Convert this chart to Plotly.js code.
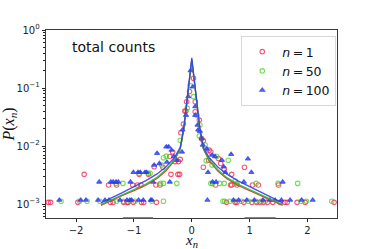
<!DOCTYPE html>
<html>
<head>
<meta charset="utf-8">
<script src="https://cdn.plot.ly/plotly-3.0.1.min.js"></script>
<style>html,body{margin:0;padding:0;background:#fff;}#chart{width:374px;height:249px;}</style>
</head>
<body>
<div id="chart"></div>
<script>
// ---- data ----
var seriesNames = ['<i>n</i>\u2009=\u20091', '<i>n</i>\u2009=\u200950', '<i>n</i>\u2009=\u2009100'];

// n = 1 (red circles)
var redX = [-2.48,-2.44,-1.97,-1.41,-1.36,-1.18,-1.12,-1.10,-1.01,-0.87,-0.83,-0.61,
            0.60,0.75,0.78,0.90,1.04,1.12,1.18,1.24,1.31,1.40,1.53,1.61,1.65,1.82,1.96,2.46,
            -1.44,-1.30,-1.02,-0.94,-0.88,-0.62,-0.55,0.41,0.67,0.69,0.78,1.05,1.15,1.50,
            -1.86,-0.91,-0.75,-0.36,-0.24,-0.21,0.69,
            0.91,0.20,-0.50,-0.65,0.56,
            -0.38,-0.29,-0.33,-0.23,-0.20,0.29,0.46,0.50,0.30,0.33,0.20,
            -0.19,-0.145,-0.12,-0.09,-0.04,0.03,0.06,0.06,0.13,0.17,-0.10];
var redY = [1.07e-3,1.07e-3,1.07e-3,1.07e-3,1.07e-3,1.07e-3,1.07e-3,1.07e-3,1.07e-3,1.07e-3,1.07e-3,1.07e-3,
            1.07e-3,1.07e-3,1.07e-3,1.07e-3,1.07e-3,1.07e-3,1.07e-3,1.07e-3,1.07e-3,1.07e-3,1.07e-3,1.07e-3,1.07e-3,1.07e-3,1.07e-3,1.07e-3,
            2.13e-3,2.13e-3,2.13e-3,2.13e-3,2.13e-3,2.13e-3,2.13e-3,2.13e-3,2.13e-3,2.13e-3,2.13e-3,2.13e-3,2.13e-3,2.13e-3,
            3.25e-3,3.25e-3,3.25e-3,3.25e-3,3.25e-3,3.25e-3,3.25e-3,
            4.3e-3,4.3e-3,4.3e-3,4.4e-3,4.0e-3,
            6.6e-3,5.4e-3,7.9e-3,5.4e-3,5.9e-3,5.7e-3,6.1e-3,5.0e-3,8.5e-3,7.9e-3,1.23e-2,
            1.7e-2,2.4e-2,4.0e-2,5.8e-2,8.7e-2,0.147,5.8e-2,3.9e-2,2.8e-2,1.35e-2,4.0e-2];

// n = 50 (green circles)
var greenX = [-2.26,-1.94,-1.81,-1.59,-1.30,-1.18,-1.07,-0.98,-0.69,-0.49,
              0.54,0.57,0.66,0.75,0.86,0.98,1.11,1.20,1.27,1.89,1.98,2.42,
              -1.31,-1.19,-0.54,-0.49,-0.26,0.33,0.36,0.48,0.56,0.78,1.11,1.49,1.83,
              -0.91,-0.72,-0.75,0.75,
              -0.44,-0.49,-0.52,-0.20,0.25,0.43,0.23,0.35,0.63,
              0.13,0.14,0.09,-0.08,0.03,-0.03];
var greenY = [1.12e-3,1.12e-3,1.12e-3,1.12e-3,1.12e-3,1.12e-3,1.12e-3,1.12e-3,1.12e-3,1.12e-3,
              1.12e-3,1.12e-3,1.12e-3,1.12e-3,1.12e-3,1.12e-3,1.12e-3,1.12e-3,1.12e-3,1.12e-3,1.12e-3,1.12e-3,
              2.27e-3,2.27e-3,2.27e-3,2.27e-3,2.27e-3,2.27e-3,2.27e-3,2.27e-3,2.27e-3,2.27e-3,2.27e-3,2.27e-3,2.27e-3,
              3.4e-3,3.4e-3,3.4e-3,2.5e-3,
              6.7e-3,6.3e-3,4.7e-3,1.26e-2,5.6e-3,6.6e-3,1.04e-2,4.7e-3,5.7e-3,
              1.5e-2,2.3e-2,3.4e-2,4.5e-2,7.1e-2,0.11];

// n = 100 (blue triangles)
var blueX = [-2.29,-1.92,-1.83,-1.62,-1.50,-1.43,-1.24,-1.12,-1.07,-1.04,-0.92,-0.84,-0.71,-0.69,
             0.27,0.72,0.81,0.95,1.08,1.23,1.35,1.44,1.55,1.70,1.90,2.09,
             -1.60,-1.40,-1.36,-1.31,-1.27,-1.06,-0.38,-0.67,0.36,0.42,0.90,1.57,
             -1.01,-0.93,-0.89,-0.81,-0.78,0.28,1.03,0.58,
             0.68,0.97,-0.60,-0.44,-0.40,-0.65,-0.56,-0.43,-0.35,-0.31,-0.26,-0.17,
             -0.16,-0.10,-0.06,-0.02,0.02,0.06,0.06,0.10,0.11,0.14,0.17,0.19,0.26,0.35,0.52,0.55,0.40];
var blueY = [1.17e-3,1.17e-3,1.17e-3,1.17e-3,1.17e-3,1.17e-3,1.17e-3,1.17e-3,1.17e-3,1.17e-3,1.17e-3,1.17e-3,1.17e-3,1.17e-3,
             1.17e-3,1.17e-3,1.17e-3,1.17e-3,1.17e-3,1.17e-3,1.17e-3,1.17e-3,1.17e-3,1.17e-3,1.17e-3,1.17e-3,
             2.4e-3,2.4e-3,2.4e-3,2.4e-3,2.4e-3,2.4e-3,2.4e-3,2.4e-3,2.4e-3,2.4e-3,2.4e-3,2.4e-3,
             3.52e-3,3.52e-3,3.52e-3,3.52e-3,3.52e-3,3.52e-3,3.52e-3,3.52e-3,
             7.2e-3,6.0e-3,7.5e-3,9.7e-3,9.7e-3,4.7e-3,5.0e-3,5.3e-3,8.5e-3,6.6e-3,5.7e-3,7.9e-3,
             1.9e-2,3.4e-2,7.1e-2,0.2,0.105,4.8e-2,3.4e-2,2.3e-2,1.9e-2,1.8e-2,1.35e-2,1.04e-2,8.9e-3,7.0e-3,5.7e-3,4.4e-3,6.6e-3];

// fitted curves
var fitX = [-1.57,-1.4,-1.2,-1.0,-0.8,-0.6,-0.45,-0.3,-0.2,-0.14,-0.08,-0.04,0,0.04,0.08,0.14,0.2,0.3,0.45,0.6,0.8,1.0,1.2,1.4,1.57];
var fitRed   = [9.5e-4,1.15e-3,1.41e-3,1.70e-3,2.09e-3,2.75e-3,3.7e-3,5.6e-3,8.9e-3,1.9e-2,6.6e-2,0.141,0.30,0.141,6.6e-2,1.9e-2,8.9e-3,5.6e-3,3.7e-3,2.75e-3,2.09e-3,1.70e-3,1.41e-3,1.15e-3,9.5e-4];
var fitGreen = [9.8e-4,1.17e-3,1.45e-3,1.78e-3,2.19e-3,2.88e-3,3.9e-3,5.75e-3,9.1e-3,1.95e-2,6.8e-2,0.145,0.31,0.145,6.8e-2,1.95e-2,9.1e-3,5.75e-3,3.9e-3,2.88e-3,2.19e-3,1.78e-3,1.45e-3,1.17e-3,9.8e-4];
var fitBlue  = [1.05e-3,1.26e-3,1.58e-3,2.0e-3,2.51e-3,3.31e-3,4.37e-3,6.3e-3,9.5e-3,2.0e-2,6.9e-2,0.148,0.33,0.148,6.9e-2,2.0e-2,9.5e-3,6.3e-3,4.37e-3,3.31e-3,2.51e-3,2.0e-3,1.58e-3,1.26e-3,1.05e-3];

var xTicks = [-2,-1,0,1,2];
var xTickText = ['\u22122','\u22121','0','1','2'];
var yTicks = [1e-3,1e-2,1e-1,1];
var yTickText = ['10<sup>\u22123</sup>','10<sup>\u22122</sup>','10<sup>\u22121</sup>','10<sup>0</sup>'];
var spineBands = [[-1.19,-0.67],[0.91,1.45]];
var panelLabel = 'total counts';
var xLabel = '<i>x</i><sub><i>n</i></sub>';
var yLabel = '<i>P</i>(<i>x</i><sub><i>n</i></sub>)';

// ---- drawing ----
var red = 'rgba(240,30,75,0.75)', green = 'rgba(70,210,30,0.75)', blue = 'rgba(40,60,245,0.75)';
function pts(x, y, name, col, sym, size) {
  return {x: x, y: y, name: name, type: 'scatter', mode: 'markers',
    marker: {symbol: sym, size: size, color: col, line: {color: col, width: 1.1}}};
}
function fit(y, col) {
  return {x: fitX, y: y, type: 'scatter', mode: 'lines', showlegend: false, hoverinfo: 'skip',
    line: {color: col, width: 1.3}};
}
var data = [
  pts(redX, redY, seriesNames[0], red, 'circle-open', 4.5),
  pts(greenX, greenY, seriesNames[1], green, 'circle-open', 4.5),
  pts(blueX, blueY, seriesNames[2], blue, 'triangle-up', 4.5),
  fit(fitRed, 'rgba(235,30,55,0.9)'),
  fit(fitGreen, 'rgba(40,190,40,0.9)'),
  fit(fitBlue, 'rgba(45,65,240,0.9)')
];
var shapes = spineBands.map(function(b){
  return {type:'line', xref:'x', yref:'paper', x0:b[0], x1:b[1], y0:0, y1:0,
    line:{color:'rgba(90,90,90,0.75)', width:2}};
});
var axisFont = {family: 'DejaVu Sans', size: 10, color: '#222'};
var labelFont = {family: 'Liberation Serif', size: 16, color: '#111'};
var layout = {
  width: 374, height: 249,
  margin: {l: 46, r: 37.3, t: 30, b: 31.3},
  paper_bgcolor: '#fff', plot_bgcolor: '#fff',
  showlegend: true,
  xaxis: {range: [-2.52, 2.51], tickvals: xTicks, ticktext: xTickText, ticks: 'outside', ticklen: 3.5,
    tickcolor: '#222', tickfont: axisFont, showgrid: false, zeroline: false,
    showline: true, linecolor: '#222', linewidth: 0.9, mirror: true},
  yaxis: {type: 'log', range: [-3.24, 0], tickvals: yTicks, ticktext: yTickText, ticks: 'outside', ticklen: 3.5,
    tickcolor: '#222', tickfont: axisFont, showgrid: false, zeroline: false,
    showline: true, linecolor: '#222', linewidth: 0.9, mirror: true,
    minor: {dtick: 'D1', ticks: 'outside', ticklen: 2, tickcolor: '#222', showgrid: false},
    title: {text: yLabel, font: labelFont, standoff: 8}},
  legend: {x: 0.671, y: 0.968, xanchor: 'left', yanchor: 'top', bgcolor: 'rgba(255,255,255,0.85)',
    bordercolor: '#d8d8d8', borderwidth: 1, font: {family: 'DejaVu Sans', size: 12.5, color: '#111'},
    itemwidth: 30, tracegroupgap: 0},
  annotations: [
    {text: panelLabel, xref: 'paper', yref: 'paper', x: 0.083, y: 0.909, xanchor: 'left', yanchor: 'middle',
     showarrow: false, font: {family: 'DejaVu Sans', size: 14, color: '#111'}},
    {text: xLabel, xref: 'paper', yref: 'paper', x: 0.5, y: -0.175, xanchor: 'center', yanchor: 'bottom',
     showarrow: false, borderpad: 0, font: {family: 'Liberation Serif', size: 15, color: '#111'}}
  ],
  shapes: shapes
};
Plotly.newPlot('chart', data, layout, {displayModeBar: false, staticPlot: true});
</script>
</body>
</html>
